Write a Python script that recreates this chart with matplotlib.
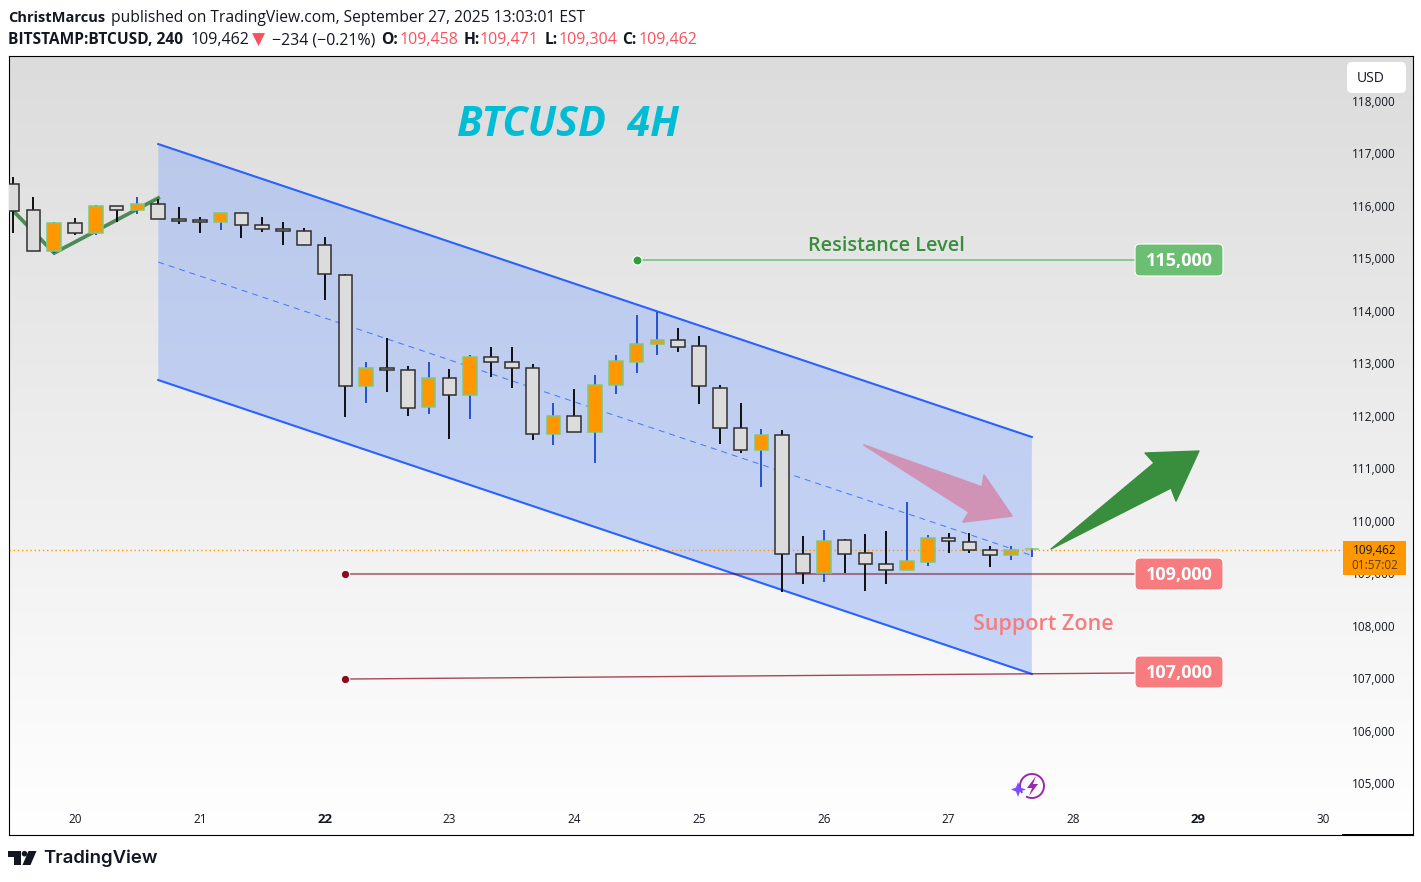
import numpy as np
import matplotlib
matplotlib.use("Agg")
import matplotlib.pyplot as plt
from matplotlib.colors import LinearSegmentedColormap
from matplotlib.patches import FancyBboxPatch, Polygon, Arc, Circle, Rectangle

plt.rcParams['font.family'] = ['Open Sans', 'DejaVu Sans']

# ---------- data ----------
opens = [116411,115916,115134,115668,115477,115992,115916,116030,115744,115725,115687,115858,115630,115554,115515,115249,
         114677,112561,112916,112866,112161,112714,112390,113114,113019,112904,111646,111989,111684,112580,113019,113362,
         113438,113323,112523,111761,111341,111627,109359,108997,109626,109378,109168,109054,109206,109664,109588,109435,109340,109458]
highs = [116550,116169,115693,115763,116017,115992,116163,116125,115973,115782,115858,115858,115782,115687,115573,115401,
         114696,113019,113476,112942,113019,112885,113152,113304,113304,112980,112237,112504,112771,113152,113914,113972,
         113667,113514,112580,112237,111741,111722,109702,109816,109651,109740,109797,110350,109721,109759,109759,109512,109512,109471]
lows = [115489,115134,115102,115451,115451,115698,115851,115744,115660,115489,115546,115393,115508,115260,115249,114206,
        111970,112249,112458,112001,112039,111562,111944,112744,112534,111543,111448,111684,111105,112414,112820,113158,
        113221,112229,111467,111296,110647,108646,108799,108837,108997,108665,108799,109054,109142,109378,109390,109123,109245,109304]
closes = [115908,115134,115668,115477,115992,115916,116030,115744,115717,115687,115858,115630,115554,115515,115249,114696,
          112561,112916,112866,112142,112714,112390,113114,113019,112904,111646,111989,111684,112580,113038,113362,113438,
          113304,112561,111761,111341,111627,109359,108997,109607,109359,109168,109054,109226,109664,109607,109435,109340,109435,109462]
first_bar_day = 19.5
bars_per_day = 6

price_ticks = list(range(105000, 118001, 1000))
day_ticks = [20, 21, 22, 23, 24, 25, 26, 27, 28, 29, 30]
bold_days = [22, 29]

channel_days = [20.667, 27.667]
channel_upper = [117179, 111595]
channel_mid = [114930, 109336]
channel_lower = [112681, 107078]

zigzag_days = [19.5, 19.833, 20.667]
zigzag_prices = [115916, 115102, 116150]

resistance_days = [24.5, 28.494]
resistance_prices = [114968, 114968]
support1_days = [22.167, 28.494]
support1_prices = [108984, 108984]
support2_days = [22.167, 28.494]
support2_prices = [106982, 107097]
last_line_price = 109443

pink_days = [26.322, 27.268, 27.284, 27.508, 27.115, 27.163]
pink_prices = [111442, 110642, 110870, 110089, 109975, 110165]
green_days = [27.821, 28.646, 28.574, 29.006, 28.822, 28.782]
green_prices = [109460, 111099, 111290, 111328, 110375, 110623]

# ---------- figure ----------
W, H = 1421, 882
fig = plt.figure(figsize=(W / 100, H / 100), dpi=100, facecolor='white')
L, R, T, B = 8.5, 1412.5, 55.5, 835
ax = fig.add_axes([L / W, (H - B) / H, (R - L) / W, (B - T) / H])
ax.set_axisbelow(True)

cmap = LinearSegmentedColormap.from_list('bg', ['#dcdcdc', '#ffffff'])
ax.imshow(np.linspace(0, 1, 256)[:, None], cmap=cmap, aspect='auto',
          extent=(0, 1, 0, 1), transform=ax.transAxes, zorder=0)

ax.set_xlim(19.467, 30.717)
ax.set_ylim(104009, 118867)

ax.set_yticks(price_ticks)
ax.set_yticklabels([f"{p:,}" for p in price_ticks], fontsize=8.5, color='#131722', va='center_baseline')
ax.yaxis.tick_right()
ax.tick_params(axis='y', length=0, pad=-43.5)
ax.set_xticks(day_ticks)
ax.set_xticklabels([str(d) for d in day_ticks], fontsize=8.5, color='#131722')
for lab, d in zip(ax.get_xticklabels(), day_ticks):
    if d in bold_days:
        lab.set_fontweight('bold')
        lab.set_fontsize(9.5)
ax.tick_params(axis='x', length=0, pad=-16)
for s in ax.spines.values():
    s.set_linewidth(0.8)
    s.set_color('black')

# last price line
ax.plot([19.467, 30.16], [last_line_price] * 2, color='#ff9800', lw=1.0,
        dashes=(1, 2), zorder=2)

# channel
ax.fill_between(channel_days, channel_lower, channel_upper,
                facecolor=(0.59, 0.70, 0.965), alpha=0.5, lw=0, zorder=1)
ax.plot(channel_days, channel_upper, color='#2962ff', lw=1.5, zorder=3)
ax.plot(channel_days, channel_lower, color='#2962ff', lw=1.5, zorder=3)
ax.plot(channel_days, channel_mid, color='#2962ff', lw=0.72, dashes=(6, 5), alpha=0.8, zorder=3)

# zigzag
ax.plot(zigzag_days, zigzag_prices, color='#4e8a55', lw=2.7, zorder=3,
        solid_joinstyle='miter')

# horizontal levels
ax.plot(resistance_days, resistance_prices, color='#81c784', lw=1.3, zorder=3)
ax.plot(resistance_days[0], resistance_prices[0], 'o', ms=6.5, mfc='#2e9e3a', mec='white', mew=0.8, zorder=4)
ax.plot(support1_days, support1_prices, color=(0.44, 0.05, 0.13), lw=1.5, alpha=0.5, zorder=3)
ax.plot(support1_days[0], support1_prices[0], 'o', ms=6, mfc='#880e1f', mec='white', mew=0.7, zorder=4)
ax.plot(support2_days, support2_prices, color=(0.55, 0.05, 0.13), lw=1.0, alpha=0.75, zorder=3)
ax.plot(support2_days[0], support2_prices[0], 'o', ms=6, mfc='#880e1f', mec='white', mew=0.7, zorder=4)

# candles
n = len(opens)
days = [first_bar_day + i / bars_per_day for i in range(n)]
for d, o, h, l, c in zip(days, opens, highs, lows, closes):
    up = c > o
    ax.plot([d, d], [l, h], color='#1848cc' if up else '#000000', lw=1.3,
            solid_capstyle='butt', zorder=4)
    ax.bar(d, abs(c - o), bottom=min(o, c), width=0.11,
           facecolor='#ff9800' if up else '#dcdcdc',
           edgecolor='#7ec87f' if up else '#2f2f2f', linewidth=1.1, zorder=5)

# arrows
ax.add_patch(Polygon(list(zip(pink_days, pink_prices)), closed=True, fc='#d093b5', ec='#d093b5',
                     lw=1.2, joinstyle='round', zorder=6))
ax.add_patch(Polygon(list(zip(green_days, green_prices)), closed=True, fc='#388e3c', ec='#388e3c',
                     lw=1.0, joinstyle='round', zorder=6))

# ---------- pixel overlay ----------
ov = fig.add_axes([0, 0, 1, 1], facecolor='none')
ov.set_xlim(0, W)
ov.set_ylim(H, 0)
ov.axis('off')

# thicker bit of bottom border under price scale
ov.add_patch(Rectangle((1342, 833.6), 71, 1.8, fc='black', ec='none'))

ov.text(568, 126, "BTCUSD  4H", color='#00bcd4', fontsize=29.7, fontstyle='italic',
        fontweight='bold', ha='center', va='center')
ov.text(886, 246, "Resistance Level", color='#388e3c', fontsize=14.2, fontweight='semibold',
        ha='center', va='center')
ov.text(1043, 624.5, "Support Zone", color='#f77c80', fontsize=15.5, fontweight='semibold',
        ha='center', va='center')


def price_box(y, txt, color):
    ov.add_patch(FancyBboxPatch((1138, y - 13), 82, 26, boxstyle="round,pad=3,rounding_size=5",
                                fc=color, ec='white', lw=0.8, zorder=8))
    ov.text(1179.5, y + 1.5, txt, color='white', fontsize=13, fontweight='bold',
            ha='center', va='center', zorder=9)


price_box(260, "115,000", '#6cbf72')
price_box(574, "109,000", '#f77c80')
price_box(672, "107,000", '#f77c80')

# current price tag
ov.add_patch(Rectangle((1343, 541), 63, 34, fc='#ff9800', ec='none', zorder=8))
ov.text(1375, 550.5, "109,462", color='#131722', fontsize=8.5, ha='center', va='center', zorder=9)
ov.text(1375, 565.5, "01:57:02", color='#5c3a06', fontsize=8.5, ha='center', va='center', zorder=9)

# USD button
ov.add_patch(FancyBboxPatch((1350, 65), 53, 25, boxstyle="round,pad=3,rounding_size=5",
                            fc='white', ec='none', zorder=8))
ov.text(1371, 78.5, "USD", color='#131722', fontsize=10, ha='center', va='center', zorder=9)

# header
DARK = '#131722'
RED = '#f7525f'
FS = 11.25
FSN = 11.5
ov.text(8, 18, "ChristMarcus", color=DARK, fontsize=10.5, fontweight='bold', va='center')
ov.text(111, 18, "published on TradingView.com, September 27, 2025 13:03:01 EST", color=DARK, fontsize=FS, va='center')
y2 = 40.5
ov.text(8, y2, "BITSTAMP:BTCUSD, 240", color=DARK, fontsize=11.2, fontweight='bold', va='center')
ov.text(190.5, y2, "109,462", color=DARK, fontsize=FSN, va='center')
ov.text(252, y2 - 1, "▼", color=RED, fontsize=FS + 1, va='center', family=['DejaVu Sans'])
ov.text(271.5, y2, "−234 (−0.21%)", color=DARK, fontsize=11.4, va='center')
for x, s in zip([381, 464, 545, 622.5], ["O:", "H:", "L:", "C:"]):
    ov.text(x, y2, s, color=DARK, fontsize=FS, fontweight='bold', va='center')
for x, s in zip([399.5, 480, 559, 639], ["109,458", "109,471", "109,304", "109,462"]):
    ov.text(x, y2, s, color=RED, fontsize=FSN, va='center')

# TradingView logo
LOGO = '#131722'
ov.add_patch(Polygon([(8, 851), (21, 851), (21, 865), (14, 865), (14, 857), (8, 857)], fc=LOGO, ec='none'))
ov.add_patch(Circle((24.5, 853.7), 2.8, fc=LOGO, ec='none'))
ov.add_patch(Polygon([(28.5, 851), (36.5, 851), (30.5, 865), (22.5, 865)], fc=LOGO, ec='none'))
ov.text(43.5, 858.5, "TradingView", color=LOGO, fontsize=13.4, fontweight='semibold', va='center',
        family=['Inter', 'DejaVu Sans'])

# assistant icon
ov.add_patch(Arc((1032, 786), 24, 24, theta1=-215, theta2=120, color='#9c27b0', lw=1.4))
ov.add_patch(Polygon([(1036, 776), (1027, 788), (1032, 788), (1029, 796), (1038, 784), (1033, 784)],
                     fc='#9c27b0', ec='none'))
ov.add_patch(Polygon([(1018, 782), (1020, 787.5), (1026, 789.5), (1020, 791.5), (1018, 797),
                      (1016, 791.5), (1011, 789.5), (1016, 787.5)], fc='#7c4dff', ec='none'))

fig.savefig('out.png', dpi=100, facecolor='white')
